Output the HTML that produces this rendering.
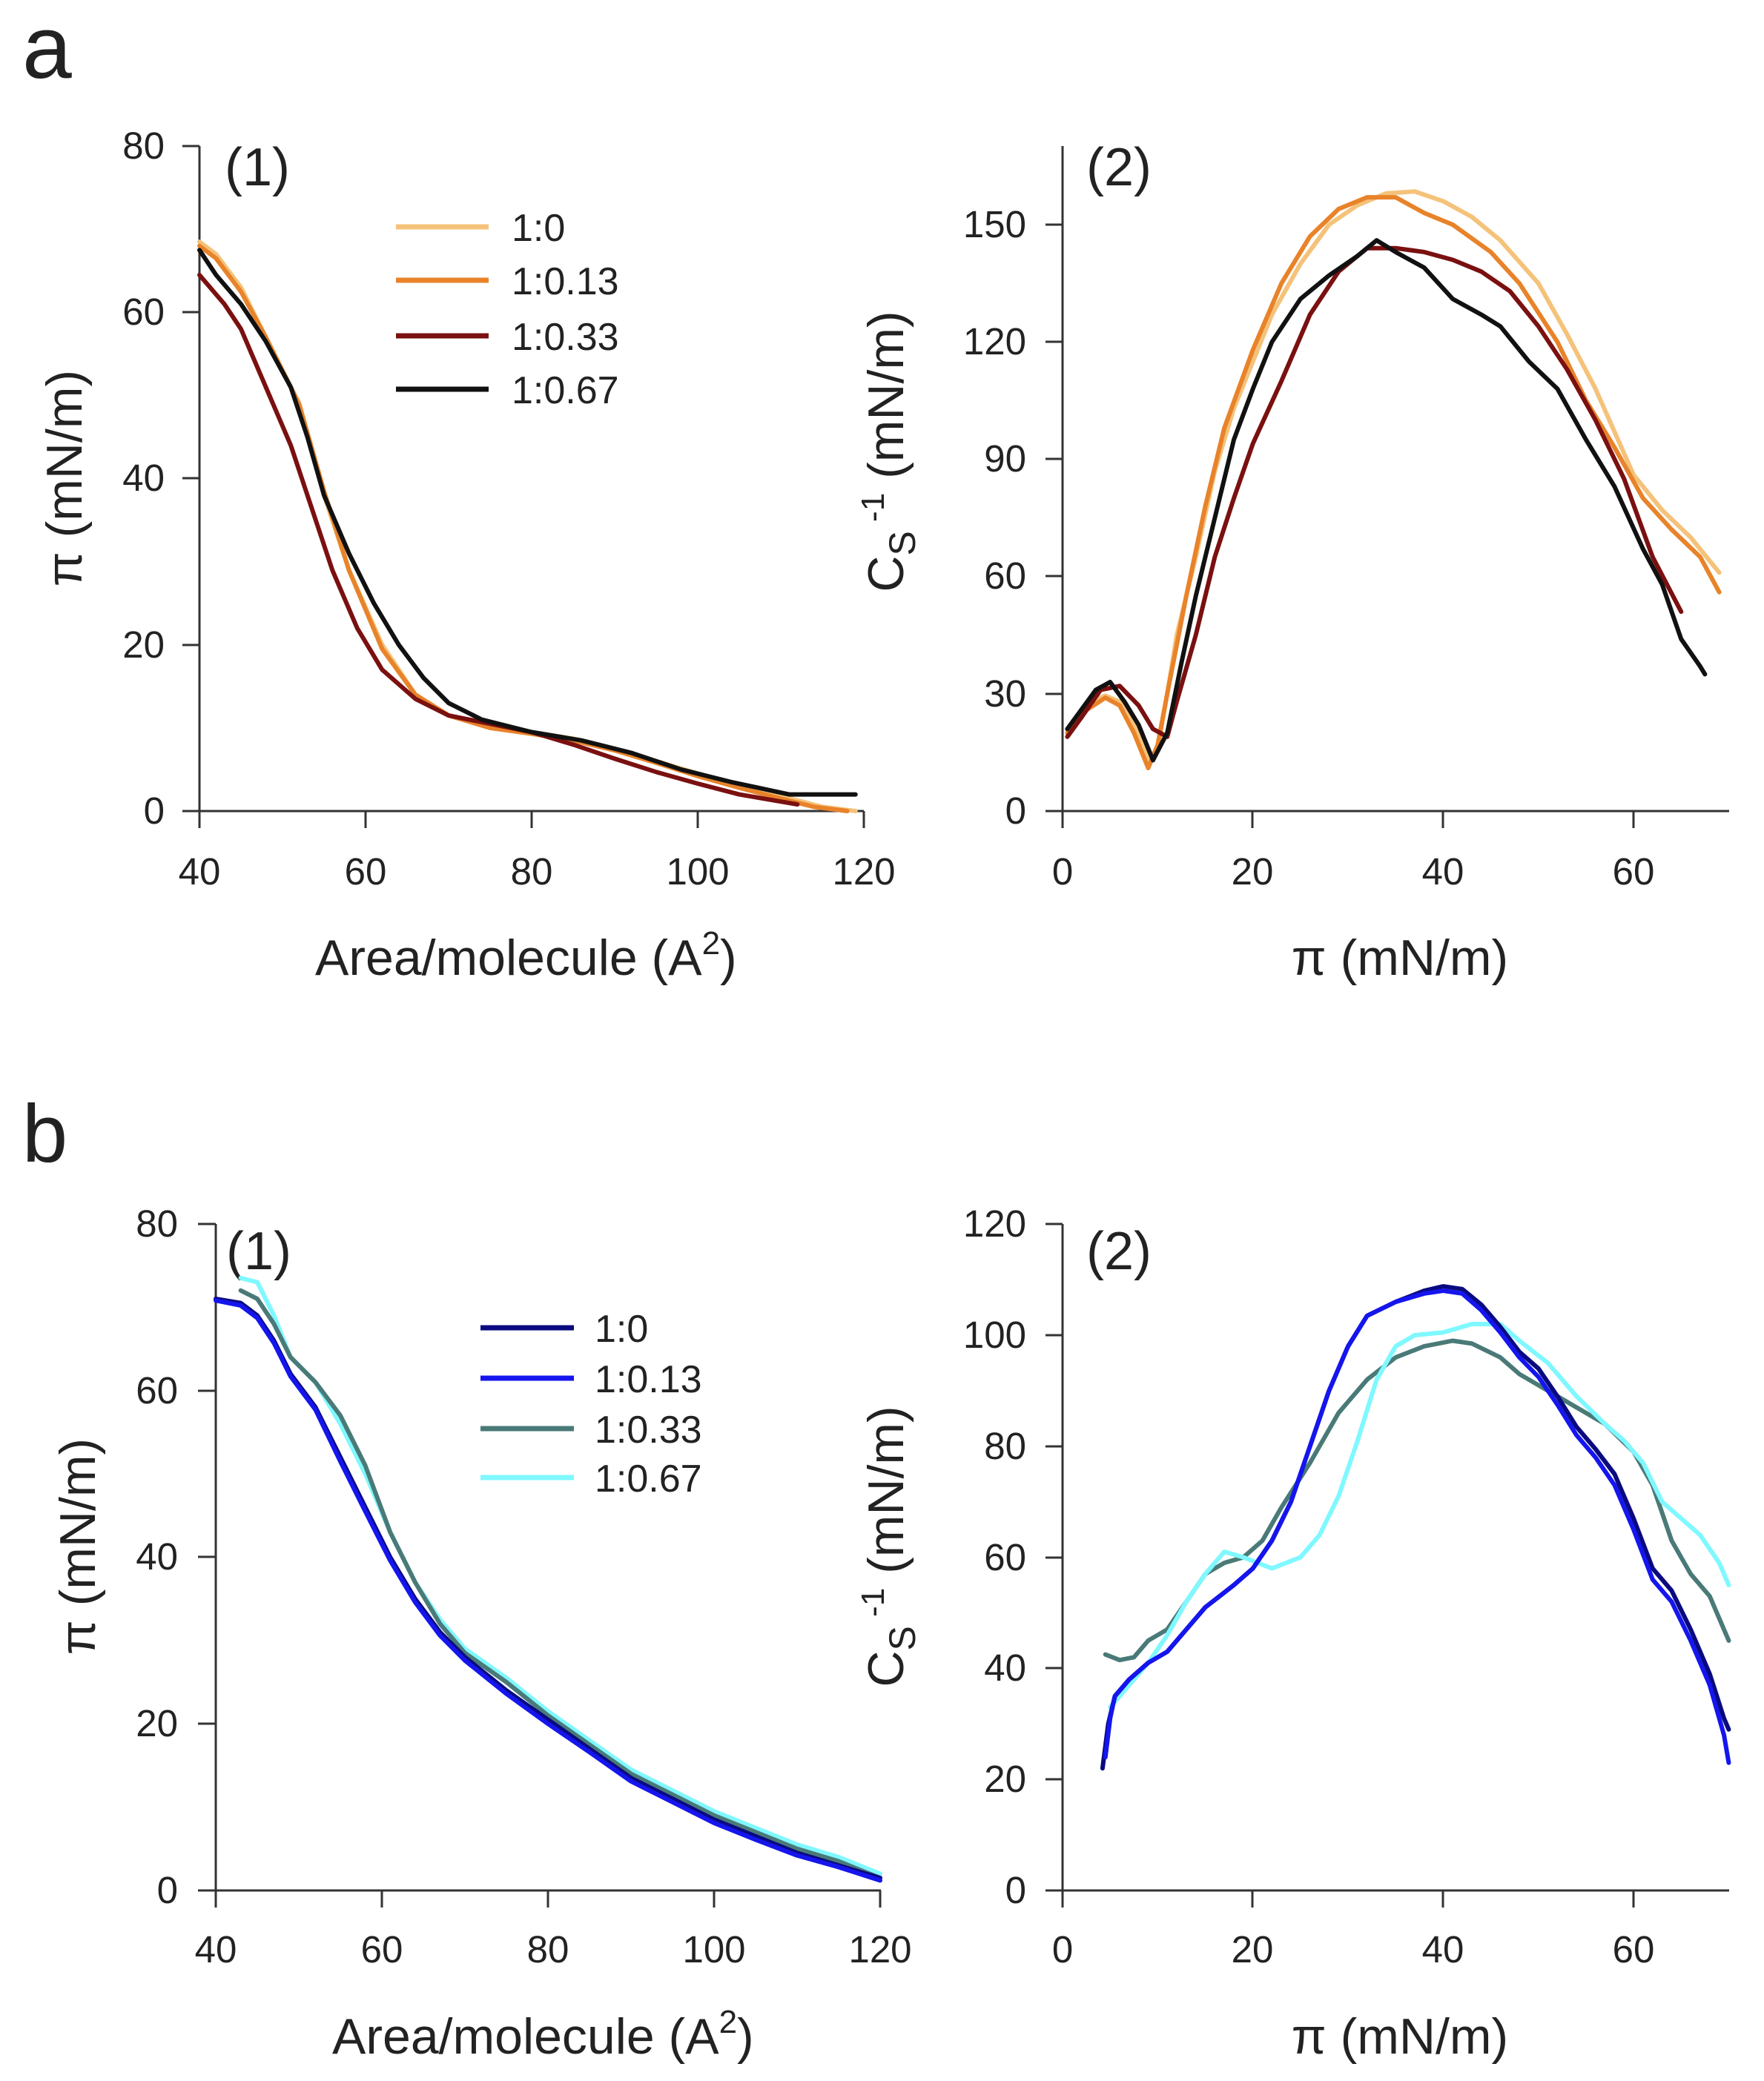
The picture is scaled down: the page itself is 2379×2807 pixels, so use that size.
<!DOCTYPE html>
<html><head><meta charset="utf-8"><style>
html,body{margin:0;padding:0;background:#fff}
svg{display:block}
text{font-family:"Liberation Sans",sans-serif;fill:#222}
.t{font-size:51px}
.ti{font-size:68px}
.lg{font-size:52px}
.ax{stroke:#333;stroke-width:3;fill:none}
.c{fill:none;stroke-width:6;stroke-linejoin:round;stroke-linecap:round;vector-effect:non-scaling-stroke}
</style></head><body>
<svg width="2379" height="2807" viewBox="0 0 2379 2807" xmlns="http://www.w3.org/2000/svg">
<rect width="2379" height="2807" fill="#fff"/>
<text x="30" y="105" style="font-size:120px">a</text>
<text x="30" y="1567" style="font-size:110px">b</text>

<!-- Panel a1 -->
<g>
<path class="ax" d="M269,197 V1094 H1165 M246,197 H269 M246,421 H269 M246,645 H269 M246,870 H269 M246,1094 H269 M269,1094 v23 M493,1094 v23 M717,1094 v23 M941,1094 v23 M1165,1094 v23"/>
<g class="t" text-anchor="end"><text x="222" y="214">80</text><text x="222" y="438">60</text><text x="222" y="662">40</text><text x="222" y="887">20</text><text x="222" y="1111">0</text></g>
<g class="t" text-anchor="middle"><text x="269" y="1193">40</text><text x="493" y="1193">60</text><text x="717" y="1193">80</text><text x="941" y="1193">100</text><text x="1165" y="1193">120</text></g>
<text x="303" y="250" style="font-size:72px">(1)</text>
<text x="425" y="1315" class="ti">Area/molecule (A<tspan dy="-28" style="font-size:44px">2</tspan><tspan dy="28">)</tspan></text>
<text transform="translate(110,645) rotate(-90)" class="ti" text-anchor="middle">π (mN/m)</text>
<g transform="translate(-179,1094) scale(11.2,-11.21)">
<polyline class="c" stroke="#f5c27a" points="40,68.5 42,67 45,63 48,57 52,49 55,38 58,29 62,20 66,14 70,11.5 75,10.2 80,9.5 85,8.7 90,7.5 95,6 100,4.5 105,3 110,1.8 115,0.5 119,0"/>
<polyline class="c" stroke="#e8832a" points="40,68 42,66.5 45,62.5 48,57 52,49 55,38.5 58,29 62,19.5 66,14 70,11.5 75,10 80,9.3 85,8.5 90,7.3 95,5.8 100,4.2 105,2.8 110,1.5 114,0.5 118,0"/>
<polyline class="c" stroke="#7a1010" points="40,64.5 43,61 45,58 48,51 51,44 53,38 56,29 59,22 62,17 66,13.5 70,11.5 75,10.5 80,9.5 85,8 90,6.3 95,4.7 100,3.3 105,2 112,0.8"/>
<polyline class="c" stroke="#111" points="40,67.5 42,64.5 45,61 48,56.5 51,51 53,45 55,38 58,31 61,25 64,20 67,16 70,13 74,11 80,9.5 86,8.5 92,7 98,5 104,3.5 111,2 119,2"/>
</g>
<line x1="534" y1="306" x2="659" y2="306" stroke="#f5c27a" stroke-width="7"/>
<line x1="534" y1="378" x2="659" y2="378" stroke="#e8832a" stroke-width="7"/>
<line x1="534" y1="453" x2="659" y2="453" stroke="#7a1010" stroke-width="7"/>
<line x1="534" y1="525" x2="659" y2="525" stroke="#111" stroke-width="7"/>
<g class="lg"><text x="690" y="325">1:0</text><text x="690" y="397">1:0.13</text><text x="690" y="472">1:0.33</text><text x="690" y="544">1:0.67</text></g>
</g>

<!-- Panel a2 -->
<g>
<path class="ax" d="M1433,197 V1094 H2332 M1410,303 H1433 M1410,461 H1433 M1410,619 H1433 M1410,777 H1433 M1410,936 H1433 M1410,1094 H1433 M1433,1094 v23 M1689,1094 v23 M1946,1094 v23 M2203,1094 v23"/>
<g class="t" text-anchor="end"><text x="1384" y="320">150</text><text x="1384" y="478">120</text><text x="1384" y="636">90</text><text x="1384" y="794">60</text><text x="1384" y="953">30</text><text x="1384" y="1111">0</text></g>
<g class="t" text-anchor="middle"><text x="1433" y="1193">0</text><text x="1689" y="1193">20</text><text x="1946" y="1193">40</text><text x="2203" y="1193">60</text></g>
<text x="1465" y="250" style="font-size:72px">(2)</text>
<text x="1888" y="1315" class="ti" text-anchor="middle">π (mN/m)</text>
<text transform="translate(1218,609) rotate(-90)" class="ti" text-anchor="middle">C<tspan dy="16" style="font-size:50px">S</tspan><tspan dy="-42" style="font-size:44px"> -1</tspan><tspan dy="26"> (mN/m)</tspan></text>
<g transform="translate(1433,1094) scale(12.835,-5.273)">
<polyline class="c" stroke="#f5c27a" points="0.5,21 2,25 3,28 4.5,29.5 6,28 7.5,22 9,13 10,16 11,30 12,45 14,65 16,87 18,103 20,115 22,127 25,140 28,150 31,155 34,158 37,158.5 40,156 43,152 46,146 50,135 53,122 56,108 58,97 60,86 63,77 66,70 69,61"/>
<polyline class="c" stroke="#e8832a" points="0.5,20 2,25 4.5,29 6,27 7.5,20 9,11 10,17 11,30 13,55 15,78 17,98 20,118 23,135 26,147 29,154 32,157 35,157 38,153 41,150 45,143 48,135 52,120 55,105 58,93 61,80 64,72 67,65 69,56"/>
<polyline class="c" stroke="#7a1010" points="0.5,19 2,24 4,31 6,32 8,27 9.5,21 11,19 12,28 14,45 16,65 18,80 20,94 23,110 26,127 29,138 32,144 35,144 38,143 41,141 44,138 47,133 50,124 53,113 56,100 59,85 62,65 65,51"/>
<polyline class="c" stroke="#111" points="0.5,21 2,26 3.5,31 5,33 6.5,28 8,22 9.5,13 11,20 12.5,38 14,55 16,75 18,95 20,108 22,120 25,131 28,137 31,142 33,146 35,143 38,139 41,131 44,127 46,124 49,115 52,108 55,95 58,83 61,67 63,58 65,44 67,37 67.5,35"/>
</g>
</g>

<!-- Panel b1 -->
<g>
<path class="ax" d="M291,1651 V2550 H1188 M267,1651 H291 M267,1876 H291 M267,2100 H291 M267,2325 H291 M267,2550 H291 M291,2550 v23 M515,2550 v23 M739,2550 v23 M963,2550 v23 M1187,2550 v23"/>
<g class="t" text-anchor="end"><text x="240" y="1668">80</text><text x="240" y="1893">60</text><text x="240" y="2117">40</text><text x="240" y="2342">20</text><text x="240" y="2567">0</text></g>
<g class="t" text-anchor="middle"><text x="291" y="2647">40</text><text x="515" y="2647">60</text><text x="739" y="2647">80</text><text x="963" y="2647">100</text><text x="1187" y="2647">120</text></g>
<text x="305" y="1712" style="font-size:72px">(1)</text>
<text x="448" y="2770" class="ti">Area/molecule (A<tspan dy="-28" style="font-size:44px">2</tspan><tspan dy="28">)</tspan></text>
<text transform="translate(128,2086) rotate(-90)" class="ti" text-anchor="middle">π (mN/m)</text>
<g transform="translate(-157,2550) scale(11.2,-11.24)">
<polyline class="c" stroke="#7ff8ff" points="43,73.5 45,73 47,69 49,64 52,61 55,56 58,50 61,43 64,37 67,32.5 70,29 75,25.5 80,21.5 85,18 90,14.5 95,12 100,9.5 105,7.5 110,5.5 115,4 120,2"/>
<polyline class="c" stroke="#4a7a78" points="43,72 45,71 47,68 49,64 52,61 55,57 58,51 61,43 64,37 67,32 70,28.5 75,25 80,21 85,17.5 90,14 95,11.5 100,9 105,7 110,5 115,3.5 120,1.5"/>
<polyline class="c" stroke="#0a0a80" points="40,71 43,70.5 45,69 47,66 49,62 52,58 55,52 58,46 61,40 64,35 67,31 70,28 75,24 80,20.5 85,17 90,13.5 95,11 100,8.5 105,6.5 110,4.5 115,3 120,1.5"/>
<polyline class="c" stroke="#1515ee" points="40,70.8 43,70.2 45,68.7 47,65.7 49,61.7 52,57.7 55,51.5 58,45.5 61,39.6 64,34.6 67,30.6 70,27.6 75,23.6 80,20 85,16.6 90,13.1 95,10.6 100,8.1 105,6.1 110,4.2 115,2.8 120,1.2"/>
</g>
<line x1="648" y1="1791" x2="774" y2="1791" stroke="#0a0a80" stroke-width="7"/>
<line x1="648" y1="1859" x2="774" y2="1859" stroke="#1515ee" stroke-width="7"/>
<line x1="648" y1="1927" x2="774" y2="1927" stroke="#4a7a78" stroke-width="7"/>
<line x1="648" y1="1993" x2="774" y2="1993" stroke="#7ff8ff" stroke-width="7"/>
<g class="lg"><text x="802" y="1810">1:0</text><text x="802" y="1878">1:0.13</text><text x="802" y="1946">1:0.33</text><text x="802" y="2012">1:0.67</text></g>
</g>

<!-- Panel b2 -->
<g>
<path class="ax" d="M1433,1651 V2550 H2332 M1410,1651 H1433 M1410,1801 H1433 M1410,1951 H1433 M1410,2101 H1433 M1410,2250 H1433 M1410,2400 H1433 M1410,2550 H1433 M1433,2550 v23 M1689,2550 v23 M1946,2550 v23 M2203,2550 v23"/>
<g class="t" text-anchor="end"><text x="1384" y="1668">120</text><text x="1384" y="1818">100</text><text x="1384" y="1968">80</text><text x="1384" y="2118">60</text><text x="1384" y="2267">40</text><text x="1384" y="2417">20</text><text x="1384" y="2567">0</text></g>
<g class="t" text-anchor="middle"><text x="1433" y="2647">0</text><text x="1689" y="2647">20</text><text x="1946" y="2647">40</text><text x="2203" y="2647">60</text></g>
<text x="1465" y="1712" style="font-size:72px">(2)</text>
<text x="1888" y="2770" class="ti" text-anchor="middle">π (mN/m)</text>
<text transform="translate(1218,2086) rotate(-90)" class="ti" text-anchor="middle">C<tspan dy="16" style="font-size:50px">S</tspan><tspan dy="-42" style="font-size:44px"> -1</tspan><tspan dy="26"> (mN/m)</tspan></text>
<g transform="translate(1433,2550) scale(12.835,-7.49)">
<polyline class="c" stroke="#4a7a78" points="4.5,42.5 6,41.5 7.5,42 9,45 11,47 13,52 15,57 17,59 19,60 21,63 23,69 26,77 29,86 32,92 35,96 38,98 41,99 43,98.5 46,96 48,93 51,90 54,87 57,84 60,79 62,73 64,63 66,57 68,53 70,45"/>
<polyline class="c" stroke="#7ff8ff" points="5,33 7,37 9,41 11,46 13,52 15,57 17,61 19,60 22,58 25,60 27,64 29,71 31,81 33,92 35,98 37,100 40,100.5 43,102 46,102 48,99 51,95 54,89 57,84 59,81 61,77 63,70 65,67 67,64 69,59 70,55"/>
<polyline class="c" stroke="#0a0a80" points="4.2,22 4.8,30 5.5,35 7,38 9,41 11,43 13,47 15,51 18,55 20,58 22,63 24,70 26,80 28,90 30,98 32,103.5 35,106 38,108 40,108.8 42,108.3 44,105.5 46,101.5 48,97 50,94 52,89 54,83.5 56,79.5 58,75 60,67 62,58 64,54 66,47 68,39 69.5,31 70,29"/>
<polyline class="c" stroke="#1515ee" points="4.5,24 5,31 5.5,35 7,38 9,41 11,43 13,47 15,51 18,55 20,58 22,63 24,70 26,80 28,90 30,98 32,103.5 35,106 38,107.5 40,108 42,107.5 44,104.5 46,100.5 48,96 50,92.5 52,87.5 54,82 56,78 58,73 60,65 62,56 64,52 66,45 68,37 69.5,28 70,23"/>
</g>
</g>
</svg>
</body></html>
